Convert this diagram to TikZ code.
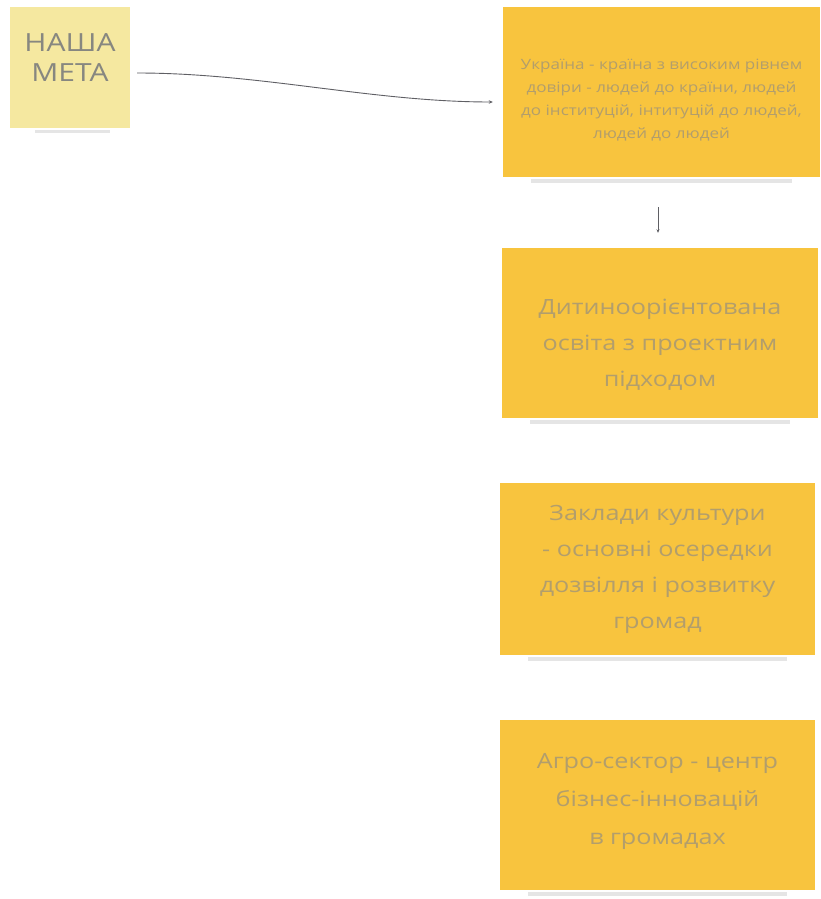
\documentclass[tikz,border=0pt]{standalone}
\usepackage{fontspec}
\setmainfont{Open Sans}
\newfontfamily\widefont[FakeStretch=1.2]{Open Sans}
\usetikzlibrary{arrows.meta}
\definecolor{boxor}{RGB}{248,196,62}
\definecolor{boxlt}{RGB}{245,232,160}
\definecolor{txtor}{RGB}{178,158,108}
\definecolor{txtlt}{RGB}{135,135,128}
\definecolor{linec}{RGB}{95,95,100}
\begin{document}
\begin{tikzpicture}[x=1pt,y=-1pt,
  goalbox/.style={fill=boxor, draw=none, inner sep=0pt},
  metabox/.style={fill=boxlt, draw=none, inner sep=0pt},
  goaltext/.style={inner sep=0pt, align=center, text=txtor},
  metatext/.style={inner sep=0pt, align=center, text=txtlt},
  conn/.style={draw=linec, line width=0.9pt, -{Stealth[length=4pt,width=3.5pt]}},
  shade/.style={fill=black!10}]
\useasboundingbox[fill=white] (0,0) rectangle (821,899);

\node[metabox, minimum width=120pt, minimum height=121pt] (meta) at (70,67.5) {};
\node[metatext, font=\widefont\fontsize{25}{30}\selectfont] (metat) at ([yshift=10pt]meta.center) {НАША\\МЕТА};

\node[goalbox, minimum width=317pt, minimum height=170pt] (b1) at (661.5,92) {};
\node[goaltext, font=\widefont\fontsize{14.2}{23}\selectfont] (t1) at ([yshift=-8pt]b1.center)
  {Україна - країна з високим рівнем\\довіри - людей до країни, людей\\до інституцій, інтитуцій до людей,\\людей до людей};

\node[goalbox, minimum width=316pt, minimum height=170pt] (b2) at (660,333) {};
\node[goaltext, font=\widefont\fontsize{21}{36}\selectfont] (t2) at ([yshift=-12pt]b2.center)
  {Дитиноорієнтована\\освіта з проектним\\підходом};

\node[goalbox, minimum width=315pt, minimum height=172pt] (b3) at (657.5,569) {};
\node[goaltext, font=\widefont\fontsize{21}{36}\selectfont] (t3) at (b3.center)
  {Заклади культури\\- основні осередки\\дозвілля і розвитку\\громад};

\node[goalbox, minimum width=315pt, minimum height=170pt] (b4) at (657.5,805) {};
\node[goaltext, font=\widefont\fontsize{21}{38}\selectfont] (t4) at ([yshift=4pt]b4.center)
  {Агро-сектор - центр\\бізнес-інновацій\\в громадах};

% faint shadows below the boxes
\foreach \b in {b1,b2,b3,b4}{
  \fill[shade] ([xshift=28pt,yshift=-2pt]\b.south west) rectangle ([xshift=-28pt,yshift=-6pt]\b.south east);
}
\fill[shade] ([xshift=25pt,yshift=-2pt]meta.south west) rectangle ([xshift=-20pt,yshift=-5pt]meta.south east);

% connectors
\draw[conn, shorten <=7pt, shorten >=10pt]
  ([yshift=-5.5pt]meta.east) .. controls +(130pt,0pt) and +(-130pt,0pt) .. ([yshift=-10pt]b1.west);
\draw[conn, line width=0.7pt, -{Stealth[length=3.5pt,width=3pt]}, shorten <=30pt, shorten >=15pt]
  ([xshift=-3.5pt]b1.south) -- ([xshift=-3.5pt]b1.south |- b2.north);
\end{tikzpicture}
\end{document}
